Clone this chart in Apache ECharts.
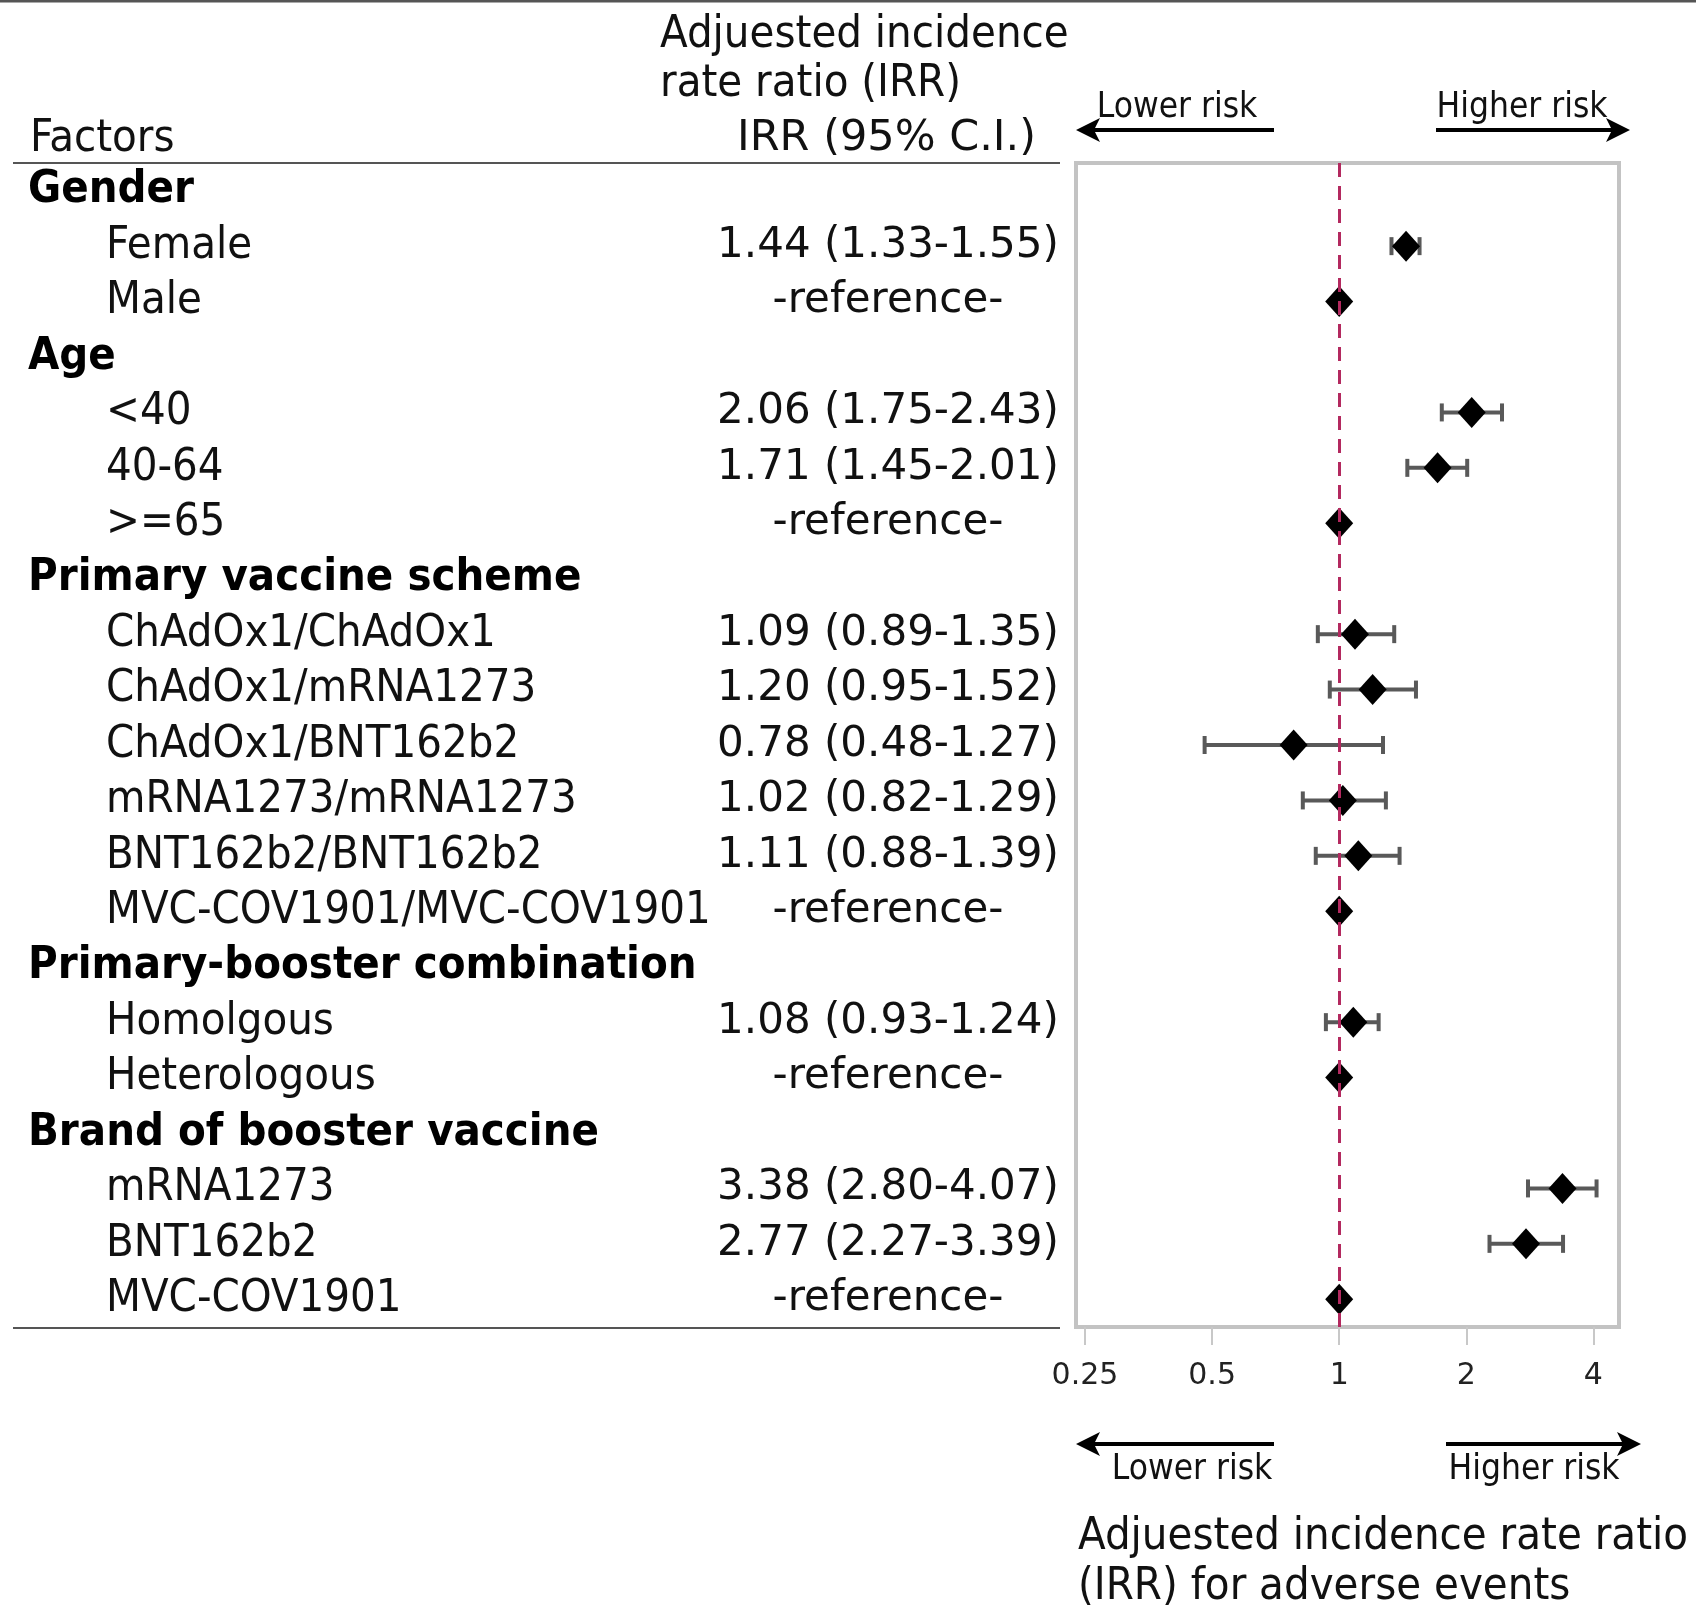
<!DOCTYPE html>
<html>
<head>
<meta charset="utf-8">
<title>Adjusted IRR for adverse events</title>
<script src="https://cdn.jsdelivr.net/npm/echarts@6.0.0/dist/echarts.min.js"></script>
<style>
html, body { margin: 0; padding: 0; background: #fff; }
#main { width: 1696px; height: 1607px; }
</style>
</head>
<body>
<div id="main"></div>
<script>
// rows of the table, group headers included
var factors = ['Gender', 'Female', 'Male', 'Age', '<40', '40-64', '>=65',
    'Primary vaccine scheme', 'ChAdOx1/ChAdOx1', 'ChAdOx1/mRNA1273', 'ChAdOx1/BNT162b2',
    'mRNA1273/mRNA1273', 'BNT162b2/BNT162b2', 'MVC-COV1901/MVC-COV1901',
    'Primary-booster combination', 'Homolgous', 'Heterologous',
    'Brand of booster vaccine', 'mRNA1273', 'BNT162b2', 'MVC-COV1901'];
var isHeader = [1, 0, 0, 1, 0, 0, 0, 1, 0, 0, 0, 0, 0, 0, 1, 0, 0, 1, 0, 0, 0];
// IRR and 95% CI (reference rows: IRR 1, no CI)
var irr    = [null, 1.44, 1, null, 2.06, 1.71, 1, null, 1.09, 1.20, 0.78, 1.02, 1.11, 1, null, 1.08, 1, null, 3.38, 2.77, 1];
var ciLow  = [null, 1.33, null, null, 1.75, 1.45, null, null, 0.89, 0.95, 0.48, 0.82, 0.88, null, null, 0.93, null, null, 2.80, 2.27, null];
var ciHigh = [null, 1.55, null, null, 2.43, 2.01, null, null, 1.35, 1.52, 1.27, 1.29, 1.39, null, null, 1.24, null, null, 4.07, 3.39, null];
var xTicks = [0.25, 0.5, 1, 2, 4];

var FONT = '"DejaVu Sans Condensed", "DejaVu Sans", sans-serif';
var FONT_W = '"DejaVu Sans", sans-serif';   // wider face for the numbers
var FS = 45;

function irrText(i) {
    if (irr[i] == null) return '';
    if (ciLow[i] == null) return '-reference-';
    return irr[i].toFixed(2) + ' (' + ciLow[i].toFixed(2) + '-' + ciHigh[i].toFixed(2) + ')';
}

var points = [], bars = [];
for (var i = 0; i < factors.length; i++) {
    if (irr[i] != null) points.push([irr[i], i]);
    if (ciLow[i] != null) bars.push([i, ciLow[i], ciHigh[i]]);
}

// 误差线
function renderErrorBar(params, api) {
    var row = api.value(0);
    var lo = api.coord([api.value(1), row]);
    var hi = api.coord([api.value(2), row]);
    var h = 9;
    var st = { stroke: '#595959', lineWidth: 4 };
    return {
        type: 'group',
        children: [
            { type: 'line', shape: { x1: lo[0], y1: lo[1], x2: hi[0], y2: hi[1] }, style: st },
            { type: 'line', shape: { x1: lo[0], y1: lo[1] - h, x2: lo[0], y2: lo[1] + h }, style: st },
            { type: 'line', shape: { x1: hi[0], y1: hi[1] - h, x2: hi[0], y2: hi[1] + h }, style: st }
        ]
    };
}

function arrow(x1, x2, y, dir) {
    var tip = dir < 0 ? x1 : x2;
    return {
        type: 'group',
        children: [
            { type: 'line', shape: { x1: x1 + (dir < 0 ? 10 : 0), y1: y, x2: x2 - (dir > 0 ? 10 : 0), y2: y },
              style: { stroke: '#000', lineWidth: 4 } },
            { type: 'polygon', shape: { points: [[tip, y], [tip - dir * 24, y - 12], [tip - dir * 18, y], [tip - dir * 24, y + 12]] },
              style: { fill: '#000' } }
        ]
    };
}

function txt(x, y, text, size, align, family) {
    return {
        type: 'text',
        style: { text: text, x: x, y: y, font: size + 'px ' + (family || FONT), fill: '#111',
                 textAlign: align || 'left', textVerticalAlign: 'middle' }
    };
}

var myChart = echarts.init(document.getElementById('main'));
var option = {
    backgroundColor: '#fff',
    animation: false,
    textStyle: { fontFamily: FONT },
    grid: {
        left: 1076, right: 77, top: 163, bottom: 280,
        show: true, borderColor: '#c3c3c3', borderWidth: 4,
        outerBoundsMode: 'none'
    },
    xAxis: {
        type: 'log', logBase: 2, min: 0.238, max: 4.6,
        axisLine: { show: false },
        axisTick: { show: true, length: 18, lineStyle: { color: '#c8c8c8', width: 2 } },
        splitLine: { show: false },
        axisLabel: {
            showMinLabel: false, showMaxLabel: false,
            margin: 34, fontSize: 30, color: '#222', fontFamily: FONT_W,
            formatter: function (v) {
                for (var j = 0; j < xTicks.length; j++) {
                    if (Math.abs(v - xTicks[j]) < 1e-6) return String(xTicks[j]);
                }
                return '';
            }
        }
    },
    yAxis: [{
        type: 'category', data: factors, inverse: true,
        axisLine: { show: false }, axisTick: { show: false },
        axisLabel: {
            interval: 0, align: 'left', margin: 1048,
            formatter: function (v, i) {
                return isHeader[i] ? '{h|' + v + '}' : '{i|' + v + '}';
            },
            rich: {
                h: { fontSize: FS, fontWeight: 'bold', color: '#000', fontFamily: FONT },
                i: { fontSize: FS, color: '#111', fontFamily: FONT, padding: [0, 0, 0, 78] }
            }
        }
    }, {
        type: 'category', data: factors, inverse: true, position: 'left',
        axisLine: { show: false }, axisTick: { show: false },
        axisLabel: {
            interval: 0, align: 'center', margin: 188,
            fontSize: 42, color: '#111', fontFamily: FONT_W,
            formatter: function (v, i) { return irrText(i); }
        }
    }],
    series: [{
        name: 'CI', type: 'custom', z: 2,
        renderItem: renderErrorBar,
        encode: { x: [1, 2], y: 0 },
        data: bars
    }, {
        name: 'ref', type: 'line', z: 3, data: [],
        markLine: {
            silent: true, symbol: 'none',
            label: { show: false },
            lineStyle: { color: '#b3295f', type: [14, 9], width: 3 },
            data: [{ xAxis: 1 }]
        }
    }, {
        name: 'IRR', type: 'scatter', z: 4,
        symbol: 'diamond', symbolSize: [28, 31],
        itemStyle: { color: '#000', opacity: 1 },
        data: points
    }],
    graphic: [
        { type: 'line', shape: { x1: 0, y1: 1, x2: 1696, y2: 1 }, style: { stroke: '#555', lineWidth: 3 } },
        { type: 'line', shape: { x1: 13, y1: 163, x2: 1060, y2: 163 }, style: { stroke: '#555', lineWidth: 2 } },
        { type: 'line', shape: { x1: 13, y1: 1328, x2: 1060, y2: 1328 }, style: { stroke: '#555', lineWidth: 2 } },
        txt(660, 35, 'Adjuested incidence', FS),
        txt(660, 84, 'rate ratio (IRR)', FS),
        txt(30, 139, 'Factors', FS),
        txt(1036, 139, 'IRR (95% C.I.)', 43, 'right', FONT_W),
        // top arrows
        txt(1177, 108, 'Lower risk', 35, 'center'),
        arrow(1076, 1274, 130, -1),
        txt(1522, 108, 'Higher risk', 35, 'center'),
        arrow(1436, 1630, 130, 1),
        // bottom arrows
        arrow(1076, 1274, 1444, -1),
        txt(1192, 1470, 'Lower risk', 35, 'center'),
        arrow(1446, 1641, 1444, 1),
        txt(1534, 1470, 'Higher risk', 35, 'center'),
        txt(1078, 1537, 'Adjuested incidence rate ratio', FS),
        txt(1078, 1587, '(IRR) for adverse events', FS)
    ]
};
myChart.setOption(option);
</script>
</body>
</html>
